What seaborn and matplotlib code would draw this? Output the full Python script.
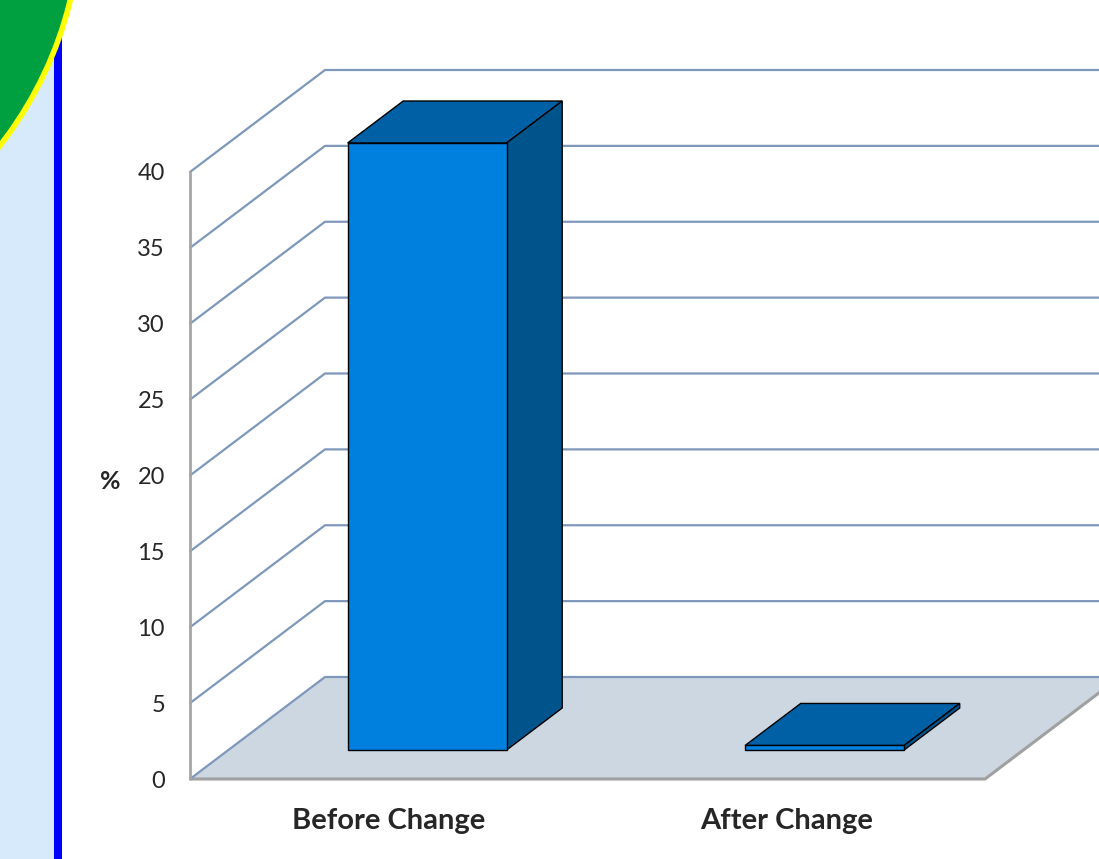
import numpy as np
import matplotlib
matplotlib.use("Agg")
import matplotlib.pyplot as plt
import seaborn as sns
from matplotlib.patches import Polygon, Rectangle, Circle
from matplotlib.transforms import ScaledTranslation

# --- data ---
categories = ["Before Change", "After Change"]
values = [40.0, 0.3]
y_ticks = [0, 5, 10, 15, 20, 25, 30, 35, 40]

sns.set_style("white")
plt.rcParams["font.family"] = ["Lato", "DejaVu Sans"]

DPI = 100
fig = plt.figure(figsize=(10.99, 8.59), dpi=DPI)
fig.patch.set_facecolor("white")

# slide decoration on the left
fig.patches.append(Rectangle((0, 0), 54 / 1099, 1, transform=fig.transFigure,
                             facecolor="#D6EAFB", edgecolor="none", zorder=0))
fig.patches.append(Rectangle((54 / 1099, 0), 8 / 1099, 1, transform=fig.transFigure,
                             facecolor="#0000FF", edgecolor="none", zorder=1))
fig.patches.append(Circle((-3.02, 9.49), 3.83, transform=fig.dpi_scale_trans,
                          facecolor="#00A040", edgecolor="#FFFF00", linewidth=4, zorder=2))

ax = fig.add_axes([190 / 1099, 80 / 859, 795 / 1099, 607 / 859])
ax.set_facecolor("none")

# oblique depth offset (pixels for full depth)
DX, DY = 135, 102
kx = DX / (795 / 2)
ky = DY / (607 / 40)
f1, f2 = 0.284, 0.696  # bar front / back depth


def proj(x, y, d):
    return (x + d * kx, y + d * ky)


grid_col = "#7E97BA"
front_col = "#0080DE"
top_col = "#0060A6"
side_col = "#00548C"

# floor
floor = [proj(-0.5, 0, 0), proj(1.5, 0, 0), proj(1.5, 0, 1), proj(-0.5, 0, 1)]
ax.add_patch(Polygon(floor, closed=True, facecolor="#CCD7E1", edgecolor="none",
                     clip_on=False, zorder=1))
ax.plot(*zip(proj(-0.5, 0, 0), proj(1.5, 0, 0), proj(1.5, 0, 1)), color="#A0A0A0",
        lw=2.2, clip_on=False, zorder=2, solid_capstyle="butt")

# gridlines on side wall and back wall
for t in y_ticks:
    pts = [proj(-0.5, t, 0), proj(-0.5, t, 1), proj(1.6, t, 1)]
    ax.plot(*zip(*pts), color=grid_col, lw=1.6, clip_on=False, zorder=2)

# front axis line
ax.plot([-0.5, -0.5], [0, 40], color="#A6A6A6", lw=2, clip_on=False, zorder=3)

# front faces through seaborn
sns.barplot(x=categories, y=values, width=0.4, color=front_col, saturation=1,
            edgecolor="black", linewidth=1, ax=ax, zorder=5)

shift = ScaledTranslation(f1 * DX / DPI, f1 * DY / DPI, fig.dpi_scale_trans)
for p in ax.patches:
    if p.get_facecolor()[:3] != matplotlib.colors.to_rgb(front_col):
        continue
    x0 = p.get_x()
    x1 = x0 + p.get_width()
    h = p.get_height()
    p.set_transform(ax.transData + shift)
    p.set_clip_on(False)
    top = [proj(x0, h, f1), proj(x1, h, f1), proj(x1, h, f2), proj(x0, h, f2)]
    side = [proj(x1, 0, f1), proj(x1, h, f1), proj(x1, h, f2), proj(x1, 0, f2)]
    ax.add_patch(Polygon(top, closed=True, facecolor=top_col, edgecolor="black",
                         lw=1, clip_on=False, zorder=4))
    ax.add_patch(Polygon(side, closed=True, facecolor=side_col, edgecolor="black",
                         lw=1, clip_on=False, zorder=4))

ax.set_xlim(-0.5, 1.5)
ax.set_ylim(0, 40)
ax.set_yticks(y_ticks)
ax.set_yticklabels([str(t) for t in y_ticks], fontsize=17)
ax.tick_params(axis="y", length=0, pad=18)
ax.tick_params(axis="x", length=0, pad=21)
for lab in ax.get_xticklabels():
    lab.set_fontsize(21)
    lab.set_fontweight("bold")
ax.set_xlabel("")
ax.set_ylabel("%", rotation=0, fontsize=18, fontweight="bold", ha="center", va="center")
ax.yaxis.set_label_coords(-0.10, 0.49)
for s in ax.spines.values():
    s.set_visible(False)

plt.savefig("out.png", dpi=DPI)
